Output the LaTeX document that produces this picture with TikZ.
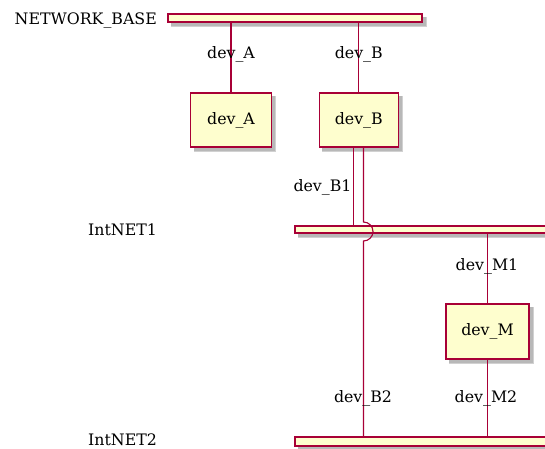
\documentclass[tikz,border=0pt]{standalone}
\usepackage{fontspec}
\setmainfont{DejaVu Serif}
\usetikzlibrary{calc}
\definecolor{pfill}{HTML}{FEFECE}
\definecolor{pline}{HTML}{A80036}
\tikzset{
  txt/.style={font=\fontsize{15.8}{18}\selectfont, inner sep=0pt, text=black},
  devbox/.style={draw=pline, fill=pfill, line width=1.1pt, inner sep=0pt, txt},
  netbar/.style={draw=pline, fill=pfill, line width=1.1pt},
  link/.style={draw=pline, line width=1.1pt},
  shade1/.style={fill=black!18},
  shade2/.style={fill=black!28},
}
\begin{document}
\begin{tikzpicture}[x=1pt,y=-1pt]
\useasboundingbox (0,0) rectangle (545,448);
% shadows (soft)
\foreach \x/\y/\X/\Y in {168/14/422/22, 295/226/550/233, 295/437/550/446,
  191/93/271.3/147, 319.3/93/398.3/147, 446/304/529/359}{
  \fill[shade1] (\x+3,\y+3) rectangle (\X+4.5,\Y+4.5);
  \fill[shade2] (\x+3,\y+3) rectangle (\X+3.5,\Y+3.5);
}
% bars
\path[netbar] (168,14) rectangle (422,22);
\path[netbar] (295,226) rectangle (550,233);
\path[netbar] (295,437) rectangle (550,446);
\coordinate (nbA) at (231,22);
\coordinate (nbB) at (358.8,22);
\coordinate (n1B) at (353.7,226);
\coordinate (n1M) at (487.5,233);
\coordinate (n2B) at (363.5,437);
\coordinate (n2M) at (487.5,437);
% net labels
\node[txt, anchor=east] (lnb) at (157,20) {NETWORK\_BASE};
\node[txt, anchor=west] (ln1) at (88,230) {IntNET1};
\node[txt, anchor=west] (ln2) at (88,439.5) {IntNET2};
% devices
\node[devbox, minimum width=80.3pt, minimum height=54pt] (A) at (231,120) {dev\_A};
\node[devbox, minimum width=79pt, minimum height=54pt] (B) at (358.8,120) {dev\_B};
\node[devbox, minimum width=83pt, minimum height=55pt] (M) at (487.5,331.5) {dev\_M};
% links
\draw[link] (nbA) -- (A.north);
\draw[link] (nbB) -- (B.north);
\draw[link] (B.south -| n1B) -- (n1B);
\draw[link] (B.south -| n2B) -- ($(n2B|-n1B)+(0,-4)$) arc[start angle=-90, end angle=90, radius=9.5] -- (n2B);
\draw[link] (n1M) -- (M.north);
\draw[link] (M.south) -- (n2M);
% address labels
\node[txt] (aA) at (231,54) {dev\_A};
\node[txt] (aB) at (358.8,54) {dev\_B};
\node[txt] (aB1) at (322.5,187) {dev\_B1};
\node[txt] (aM1) at (487,266.5) {dev\_M1};
\node[txt] (aB2) at (363,398) {dev\_B2};
\node[txt] (aM2) at (486,398) {dev\_M2};
\end{tikzpicture}
\end{document}
